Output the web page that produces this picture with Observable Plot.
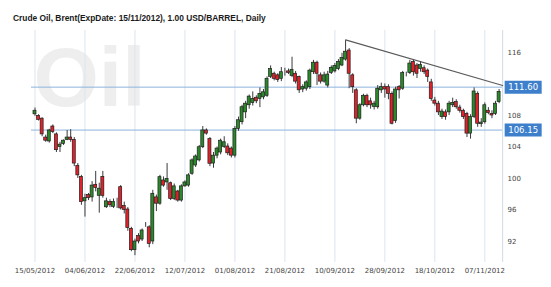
<!DOCTYPE html>
<html><head><meta charset="utf-8">
<script src="https://cdn.jsdelivr.net/npm/d3@7"></script>
<script src="https://cdn.jsdelivr.net/npm/@observablehq/plot@0.6"></script>
<style>
body{margin:0;background:#fff;width:551px;height:287px;overflow:hidden}
#title{height:28px;position:relative}
#title span{position:absolute;left:13px;top:13px;font:bold 8.4px "Liberation Sans",Arial,sans-serif;color:#1a1a1a;white-space:nowrap}
#chart svg{display:block}
</style></head><body>
<div id="title"><span>Crude Oil, Brent(ExpDate: 15/11/2012), 1.00 USD/BARREL, Daily</span></div>
<div id="chart"></div>
<script>
const opens  = [108.15,107.95,107.6,105.2,104.7,106.6,105.6,104.0,104.4,104.9,105.2,104.9,101.6,100.2,97.1,97.9,97.6,99.2,97.8,100.2,96.35,97.0,96.4,97.3,98.9,96.5,96.06,93.6,90.9,92.7,92.25,94.15,93.8,92.0,97.6,96.8,99.75,99.5,99.4,97.4,98.35,97.2,99.0,99.1,100.6,101.65,102.3,103.97,106.1,105.0,101.9,102.9,103.3,104.0,104.06,103.8,102.9,106.3,107.15,108.4,109.3,109.6,110.25,110.1,110.3,110.5,112.9,113.3,113.1,112.66,113.6,113.6,113.0,113.3,112.9,111.3,111.4,111.6,113.5,114.7,113.1,112.3,111.8,113.4,113.6,113.9,114.35,115.1,116.25,113.1,111.2,107.6,109.3,110.5,109.8,109.1,109.05,111.2,111.6,111.6,110.75,107.3,111.6,111.4,113.2,113.4,114.8,114.35,113.9,114.0,113.7,112.2,109.9,109.5,107.8,108.4,108.4,109.3,109.7,109.0,108.6,108.2,105.7,107.8,110.75,106.9,107.15,108.6,108.2,108.2,109.7];
const highs  = [108.95,108.1,107.7,105.5,106.25,106.8,105.8,104.6,104.9,106.1,106.2,105.2,101.9,100.4,98.0,98.1,99.6,100.9,99.4,100.9,97.5,97.3,97.4,97.5,99.1,97.0,96.3,93.8,92.3,93.0,93.6,94.4,94.0,98.5,97.9,100.4,100.2,101.9,99.55,99.3,98.5,99.2,99.7,100.6,102.5,103.0,104.2,106.6,106.3,105.2,103.3,104.0,105.0,105.3,104.4,104.0,106.6,107.8,109.3,109.8,110.6,111.0,110.5,111.5,111.3,112.9,114.3,113.5,113.3,114.1,114.0,113.9,115.4,113.6,113.0,111.9,112.4,113.9,115.0,114.9,113.4,113.5,113.6,114.3,114.6,115.1,115.9,117.5,116.5,113.3,111.4,109.5,110.7,110.7,110.2,109.8,111.8,112.1,112.0,111.9,111.0,111.6,111.8,113.6,113.5,115.0,115.0,114.6,114.8,114.3,113.9,112.6,110.3,109.8,108.8,108.7,109.8,110.2,110.0,109.3,108.8,108.4,108.1,111.5,111.0,107.6,109.6,109.0,108.6,109.8,111.3];
const lows   = [107.9,107.3,105.3,104.6,104.5,105.7,103.3,103.3,104.2,104.8,104.6,101.5,100.0,96.6,95.1,97.2,97.0,98.3,95.6,97.5,96.2,96.3,96.2,96.2,96.0,95.5,93.3,90.7,90.2,91.7,92.0,93.8,91.2,91.6,95.8,96.6,98.9,98.5,97.2,97.2,97.0,97.0,98.9,98.9,100.4,101.4,102.1,103.8,105.5,101.5,101.3,102.5,103.0,103.8,102.9,102.6,102.6,106.0,106.8,107.6,108.8,109.2,109.5,109.0,110.0,110.3,112.7,112.4,112.2,112.3,113.0,113.2,112.8,112.0,110.8,110.9,111.1,111.3,113.2,111.8,112.0,112.1,111.5,113.2,113.4,113.7,114.2,114.9,111.4,110.8,106.95,107.4,109.1,109.0,108.8,108.7,108.8,110.8,110.2,110.0,106.8,107.0,110.1,111.2,112.9,113.2,113.0,112.7,113.5,113.2,112.2,109.8,109.2,108.0,107.5,107.4,108.0,109.0,108.8,108.3,107.5,105.2,105.0,107.6,106.5,106.5,106.9,108.1,107.6,108.0,109.5];
const closes = [108.6,107.45,105.6,104.8,106.1,105.9,103.6,104.3,104.8,105.2,104.9,101.9,100.4,97.0,97.5,97.5,99.1,98.8,98.7,97.8,97.1,96.6,97.0,97.3,96.2,96.0,93.7,90.9,92.0,92.0,93.4,94.15,91.7,98.06,96.8,100.17,99.1,99.95,97.4,99.0,97.2,99.0,99.5,100.4,102.3,102.8,103.97,106.1,105.7,101.87,102.9,103.8,104.8,104.6,103.2,102.9,106.3,107.4,109.05,109.5,110.4,110.1,109.8,110.75,110.95,112.66,113.9,112.66,112.5,113.5,113.6,113.4,113.8,112.3,111.2,111.6,112.2,113.7,114.7,113.3,112.3,113.1,113.2,114.05,114.3,114.8,115.3,116.1,113.3,111.6,107.6,109.3,110.5,109.3,109.3,109.5,111.4,111.6,111.3,110.75,106.95,111.3,111.2,113.4,113.2,114.6,113.5,113.3,114.4,113.5,112.9,110.1,109.5,108.4,108.5,107.8,109.5,109.6,109.05,108.6,107.8,105.7,107.8,111.05,106.95,107.1,109.3,108.3,108.0,109.5,111.0];

const tickDays   = [0,14,28,42,56,70,84,98,112,126];
const tickLabels = ["15/05/2012","04/06/2012","22/06/2012","12/07/2012","01/08/2012","21/08/2012","10/09/2012","28/09/2012","18/10/2012","07/11/2012"];
const yTicks     = [92,96,100,104,108,116];
const levels      = [111.60, 106.15];
const levelLabels = ["111.60", "106.15"];
const trendDays   = [87, 131];
const trendValues = [117.6, 111.8];
const lastDay     = 131;
const watermark   = ["Oil"];

const candles = opens.map((o, i) => ({i, o, h: highs[i], l: lows[i], c: closes[i]}));
const levelData = levels.map((v, k) => ({v, label: levelLabels[k], x: lastDay}));
const trend = trendDays.map((d, k) => ({x: d, y: trendValues[k]}));

const GREEN = "#2a8a2a", RED = "#e2222a";
const boxSymbol = {draw(ctx) { ctx.rect(-18.5, -6.5, 37, 13); }};

const chart = Plot.plot({
  width: 551, height: 259,
  marginLeft: 31, marginRight: 49, marginTop: 2, marginBottom: 25,
  style: {fontFamily: "DejaVu Sans, Verdana, sans-serif", fontSize: "7px", color: "#444", background: "#fff"},
  x: {type: "linear", domain: [0, lastDay], range: [34.5, 34.5 + lastDay * 3.57]},
  y: {domain: [92, 116], range: [213, 24]},
  marks: [
    Plot.text(watermark, {frameAnchor: "top-left", dx: 2, dy: 16, text: d => d, fill: "#eeeeee", fontSize: 84, fontWeight: "bold", fontFamily: "Liberation Sans, Arial, sans-serif", textAnchor: "start", lineAnchor: "top"}),
    Plot.ruleX(tickDays, {stroke: "#dbe5ef", strokeWidth: 1}),
    Plot.ruleX([lastDay], {stroke: "#cfdbe7", strokeWidth: 1}),
    Plot.ruleY(levels, {stroke: "#8db3dd", strokeWidth: 1}),
    Plot.line(trend, {x: "x", y: "y", stroke: "#5a5a5a", strokeWidth: 1.1}),
    Plot.ruleX(candles, {x: "i", y1: "l", y2: "h", stroke: "#3a3a3a", strokeWidth: 1}),
    Plot.rect(candles, {
      x1: d => d.i - 0.42, x2: d => d.i + 0.42, y1: "o", y2: "c",
      fill: d => d.c > d.o ? GREEN : d.c < d.o ? RED : "#000",
      stroke: "#1e1e1e", strokeWidth: 0.7
    }),
    Plot.axisX({ticks: tickDays, tickFormat: d => tickLabels[tickDays.indexOf(d)], tickSize: 0, tickPadding: 6, fill: "#444"}),
    Plot.axisY({anchor: "right", ticks: yTicks, tickSize: 0, tickPadding: 5, fill: "#444", textAnchor: "start"}),
    Plot.dot(levelData, {x: "x", y: "v", dx: 20.5, symbol: boxSymbol, r: 5, fill: "#3d7fcb", stroke: "none"}),
    Plot.text(levelData, {x: "x", y: "v", dx: 20.5, text: "label", fill: "#fff", fontSize: 8.5, fontFamily: "DejaVu Sans"})
  ]
});
document.getElementById("chart").append(chart);
</script>
</body></html>
